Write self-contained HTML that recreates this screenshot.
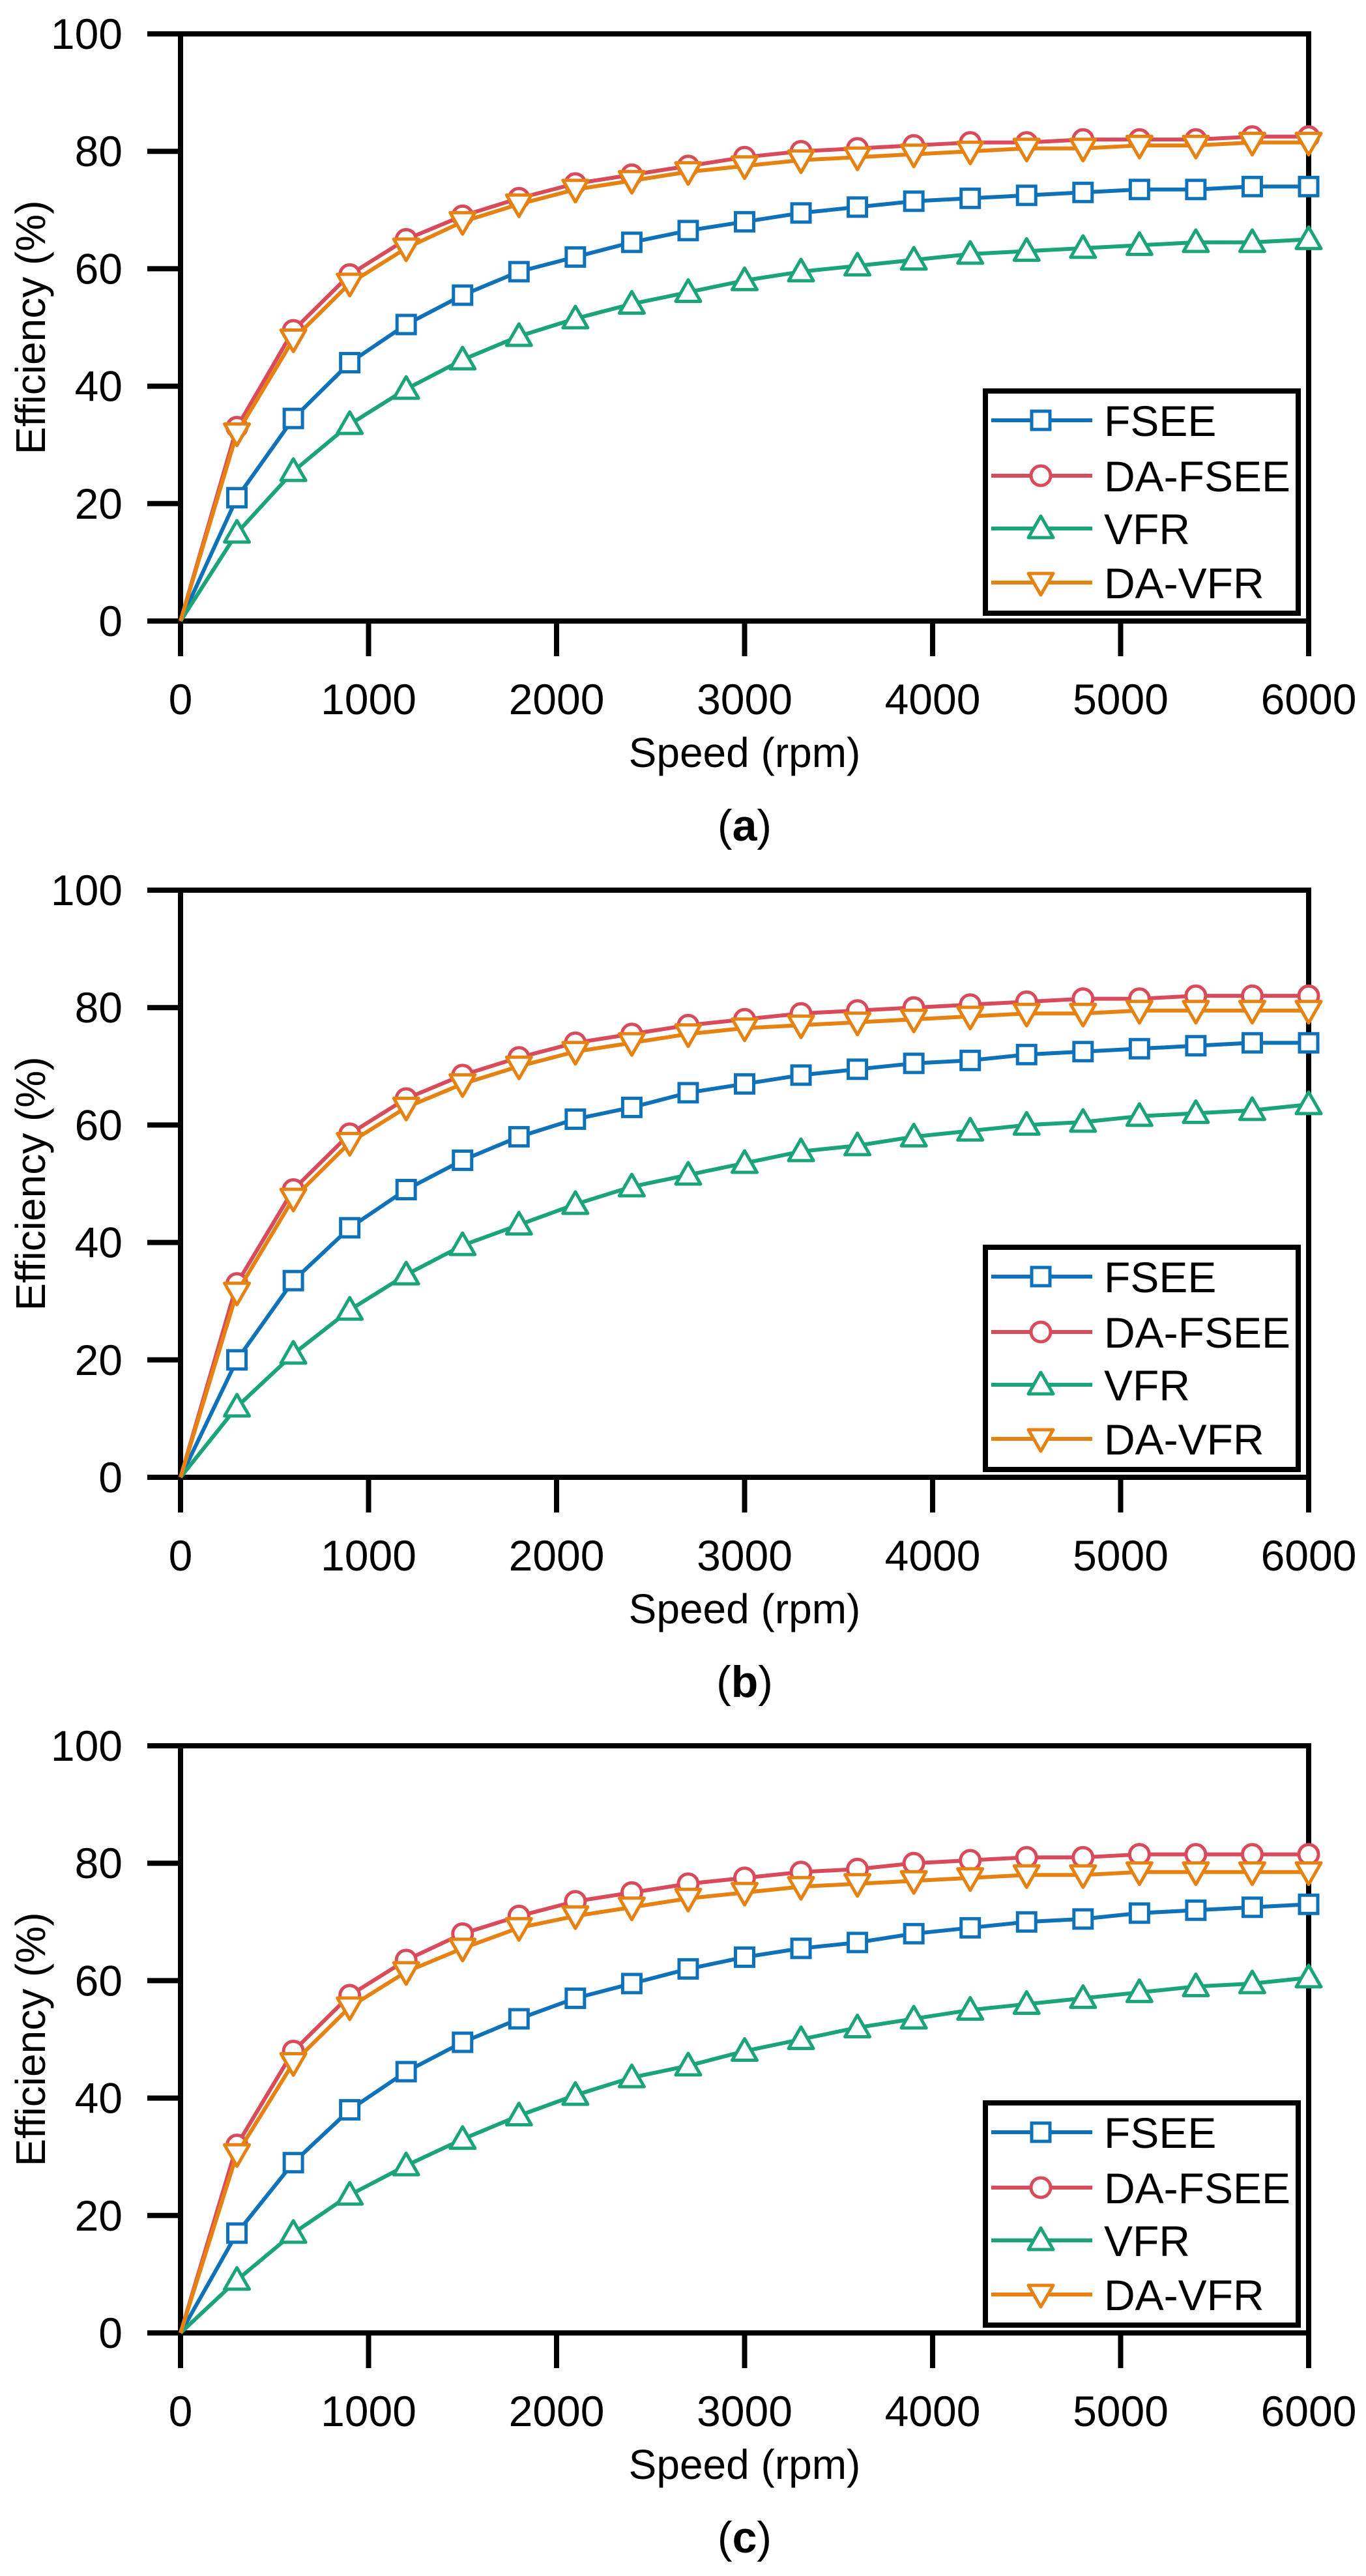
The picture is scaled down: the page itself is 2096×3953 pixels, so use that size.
<!DOCTYPE html>
<html><head><meta charset="utf-8"><style>
html,body{margin:0;padding:0;background:#fff}
svg{display:block}
text{font-family:"Liberation Sans",sans-serif}
</style></head><body>
<svg id="fig" width="2096" height="3953" viewBox="0 0 2096 3953" xmlns="http://www.w3.org/2000/svg"></svg>
<script>
const speeds=[0,300,600,900,1200,1500,1800,2100,2400,2700,3000,3300,3600,3900,4200,4500,4800,5100,5400,5700,6000];
const seriesNames=["FSEE","DA-FSEE","VFR","DA-VFR"];
const panelLabels=["(a)","(b)","(c)"];
const xTicks=[0,1000,2000,3000,4000,5000,6000];
const yTicks=[0,20,40,60,80,100];
const aFSEE=[0,21,34.5,44,50.5,55.5,59.5,62,64.5,66.5,68,69.5,70.5,71.5,72,72.5,73,73.5,73.5,74,74];
const aDAFSEE=[0,33,49.5,59,65,69,72,74.5,76,77.5,79,80,80.5,81,81.5,81.5,82,82,82,82.5,82.5];
const aVFR=[0,15,25.5,33.5,39.5,44.5,48.5,51.5,54,56,58,59.5,60.5,61.5,62.5,63,63.5,64,64.5,64.5,65];
const aDAVFR=[0,32,48,57.5,63.5,68,71,73.5,75,76.5,77.5,78.5,79,79.5,80,80.5,80.5,81,81,81.5,81.5];
const bFSEE=[0,20,33.5,42.5,49,54,58,61,63,65.5,67,68.5,69.5,70.5,71,72,72.5,73,73.5,74,74];
const bDAFSEE=[0,33,49,58.5,64.5,68.5,71.5,74,75.5,77,78,79,79.5,80,80.5,81,81.5,81.5,82,82,82];
const bVFR=[0,12,21,28.5,34.5,39.5,43,46.5,49.5,51.5,53.5,55.5,56.5,58,59,60,60.5,61.5,62,62.5,63.5];
const bDAVFR=[0,31.5,47.5,57,63,67,70,72.5,74,75.5,76.5,77,77.5,78,78.5,79,79,79.5,79.5,79.5,79.5];
const cFSEE=[0,17,29,38,44.5,49.5,53.5,57,59.5,62,64,65.5,66.5,68,69,70,70.5,71.5,72,72.5,73];
const cDAFSEE=[0,32,48,57.5,63.5,68,71,73.5,75,76.5,77.5,78.5,79,80,80.5,81,81,81.5,81.5,81.5,81.5];
const cVFR=[0,9,17,23.5,28.5,33,37,40.5,43.5,45.5,48,50,52,53.5,55,56,57,58,59,59.5,60.5];
const cDAVFR=[0,30.5,46,55.5,61.5,65.5,69,71,72.5,74,75,76,76.5,77,77.5,78,78,78.5,78.5,78.5,78.5];
const panels=[[aFSEE,aDAFSEE,aVFR,aDAVFR],[bFSEE,bDAFSEE,bVFR,bDAVFR],[cFSEE,cDAFSEE,cVFR,cDAVFR]];

const colors=["#0f72b8","#d94b5a","#1ba37a","#e58212"];
const markers=["square","circle","up","down"];
const NS="http://www.w3.org/2000/svg";
const fig=document.getElementById('fig');
function mk(tag,attrs,parent){const e=document.createElementNS(NS,tag);for(const k in attrs)e.setAttribute(k,attrs[k]);(parent||fig).appendChild(e);return e;}
function marker(g,type,x,y,c){
  let e;
  if(type==="square"){e=mk('rect',{x:x-14,y:y-14,width:28,height:28,fill:'#fff',stroke:c,'stroke-width':5},g);}
  else if(type==="circle"){e=mk('circle',{cx:x,cy:y,r:15,fill:'#fff',stroke:c,'stroke-width':5},g);}
  else if(type==="up"){e=mk('polygon',{points:`${x},${y-19} ${x-19},${y+14} ${x+19},${y+14}`,fill:'#fff',stroke:c,'stroke-width':5,'stroke-linejoin':'round'},g);}
  else {e=mk('polygon',{points:`${x},${y+19} ${x-19},${y-14} ${x+19},${y-14}`,fill:'#fff',stroke:c,'stroke-width':5,'stroke-linejoin':'round'},g);}
  return e;
}
const offsets=[0,1314,2627];
panels.forEach((data,pi)=>{
  const oy=offsets[pi];
  const L=277,R=2008,T=52+oy,B=953+oy;
  const xs=v=>L+(v-0)/6000*(R-L);
  const ys=v=>B-(v-0)/100*(B-T);
  const g=mk('g',{});
  
  
  const ax=mk('path',{d:`M${L} ${T} H${R} V${B} H${L} Z`,fill:'none',stroke:'#000','stroke-width':8},g);
  
  
  yTicks.forEach(v=>{
    const t=mk('line',{x1:226,x2:L,y1:ys(v),y2:ys(v),stroke:'#000','stroke-width':8},g);
    
    
    const tx=mk('text',{x:188,y:ys(v)+23,'text-anchor':'end','font-size':66},g);
    tx.textContent=v;
    
    
  });
  xTicks.forEach(v=>{
    const t=mk('line',{x1:xs(v),x2:xs(v),y1:B,y2:B+54,stroke:'#000','stroke-width':8},g);
    
    
    const tx=mk('text',{x:xs(v),y:B+143,'text-anchor':'middle','font-size':66},g);
    tx.textContent=v;
    
    
  });
  const xt=mk('text',{x:(L+R)/2,y:B+224,'text-anchor':'middle','font-size':64},g);
  xt.textContent='Speed (rpm)';
  
  
  const yt=mk('text',{x:0,y:0,'text-anchor':'middle','font-size':64,transform:`translate(69,${(T+B)/2}) rotate(-90)`},g);
  yt.textContent='Efficiency (%)';
  
  
  const pl=mk('text',{x:(L+R)/2,y:B+337,'text-anchor':'middle','font-size':68,'font-family':'Liberation Serif, serif'},g);
  pl.innerHTML='(<tspan font-weight="bold">'+panelLabels[pi].slice(1,2)+'</tspan>)';
  
  
  data.forEach((vals,si)=>{
    const sg=mk('g',{},g);
    
    
    const pts=vals.map((v,i)=>xs(speeds[i])+','+ys(v)).join(' ');
    const ln=mk('polyline',{points:pts,fill:'none',stroke:colors[si],'stroke-width':6,'stroke-linejoin':'round'},sg);
    
    
    vals.forEach((v,i)=>{
      if(speeds[i]===0) return;
      const m=marker(sg,markers[si],xs(speeds[i]),ys(v),colors[si]);
      
      
    });
  });
  const lg=mk('g',{},g);
  
  
  const lbox=mk('rect',{x:1512,y:600+oy,width:480,height:341,fill:'#fff',stroke:'#000','stroke-width':8},lg);
  
  
  const ey=[645,730,811,894];
  seriesNames.forEach((n,si)=>{
    const y=ey[si]+oy;
    const eg=mk('g',{},lg);
    
    
    mk('line',{x1:1521,x2:1676,y1:y,y2:y,stroke:colors[si],'stroke-width':6},eg);
    marker(eg,markers[si],1597,y,colors[si]);
    const t=mk('text',{x:1694,y:y+24,'font-size':66},eg);
    t.textContent=n;
  });
});
</script>
</body></html>
